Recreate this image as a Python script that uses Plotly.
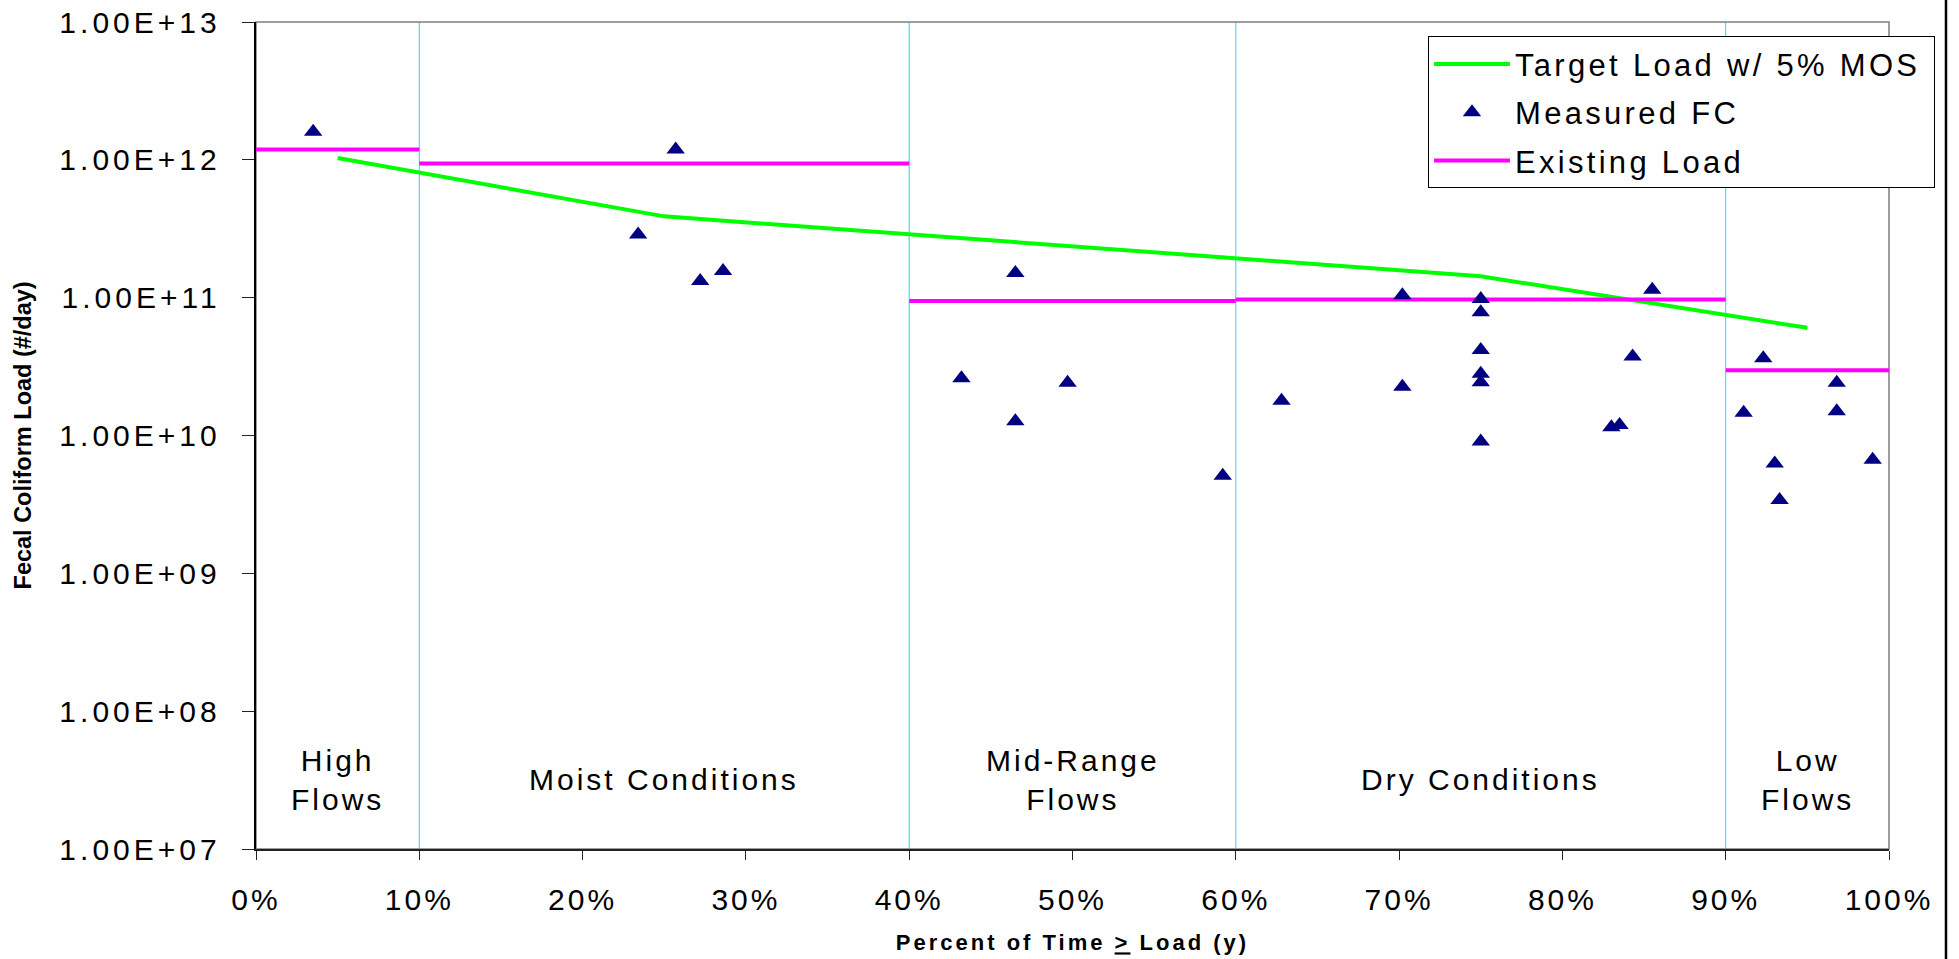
import plotly.graph_objects as go

# Flow-duration zones (percent of time a load is equalled or exceeded)
zone_edges = [0, 10, 40, 60, 90, 100]
zone_names = ["High<br>Flows", "Moist Conditions", "Mid-Range<br>Flows",
              "Dry Conditions", "Low<br>Flows"]
zone_mid = [5, 25, 50, 75, 95]

# Target load with 5% margin of safety (#/day)
target_pct = [5, 25, 75, 95]
target_load = [1.03e12, 3.89e11, 1.43e11, 6.04e10]

# Existing load for each flow zone (#/day)
existing_load = [1.19e12, 9.4e11, 9.44e10, 9.7e10, 2.97e10]

# Measured fecal coliform loads
measured_pct = [3.5,
                25.7, 23.4, 27.2, 28.6,
                46.5, 43.2, 46.5, 49.7, 59.2,
                62.8, 70.2, 70.2, 75.0, 75.0, 75.0, 75.0, 75.0, 75.0,
                85.5, 84.3, 83.0, 83.5,
                92.3, 91.1, 96.8, 96.8, 93.0, 93.3, 99.0]
measured_load = [1.6e12,
                 1.19e12, 2.87e11, 1.32e11, 1.56e11,
                 1.51e11, 2.6e10, 1.27e10, 2.41e10, 5.1e9,
                 1.79e10, 1.04e11, 2.26e10, 9.8e10, 7.85e10, 4.18e10, 2.8e10, 2.43e10, 9.06e9,
                 1.14e11, 3.74e10, 1.15e10, 1.19e10,
                 3.63e10, 1.46e10, 2.41e10, 1.50e10, 6.27e9, 3.4e9, 6.67e9]

y_tick_vals = [1e7, 1e8, 1e9, 1e10, 1e11, 1e12, 1e13]
x_tick_vals = list(range(0, 101, 10))

FONT = "Liberation Sans, Arial, sans-serif"


def spaced(text, px=3):
    """Wrap text so it is set with extra space between letters."""
    return f'<span style="letter-spacing:{px}px">{text}</span>'


# y labels carry a trailing gap so they sit a little away from the ticks
y_tick_text = [spaced(f"{v:.2E}", 4) + spaced("&nbsp;", 7) for v in y_tick_vals]
x_tick_text = [spaced(f"{v}%") for v in x_tick_vals]

# Existing load drawn as one flat segment per zone
ex_x, ex_y = [], []
for i, load in enumerate(existing_load):
    ex_x += [zone_edges[i], zone_edges[i + 1], None]
    ex_y += [load, load, None]

fig = go.Figure()

fig.add_trace(go.Scatter(
    x=target_pct, y=target_load, mode="lines",
    name=spaced("Target Load w/ 5% MOS", 3.3) + "&nbsp;",
    legendrank=1, legendgroup="target",
    line=dict(color="#00FF00", width=4),
))
fig.add_trace(go.Scatter(
    x=ex_x, y=ex_y, mode="lines",
    name=spaced("Existing Load", 3.3), legendrank=3, legendgroup="existing",
    line=dict(color="#FF00FF", width=4),
))
fig.add_trace(go.Scatter(
    x=measured_pct, y=measured_load, mode="markers",
    name=spaced("Measured FC", 3.3), legendrank=2, legendgroup="measured",
    marker=dict(symbol="triangle-up", size=16, color="#000080",
                line=dict(width=0)),
))

# Zone boundaries
for edge in zone_edges[1:-1]:
    fig.add_shape(type="line", xref="x", yref="paper",
                  x0=edge, x1=edge, y0=0, y1=1, layer="below",
                  line=dict(color="#33CCFF", width=1))

# Plot-area frame (top and right edges)
fig.add_shape(type="rect", xref="paper", yref="paper",
              x0=0, x1=1, y0=0, y1=1, layer="below",
              line=dict(color="#7F7F7F", width=1.5))

# Chart-area edge on the right
fig.add_shape(type="line", xref="paper", yref="paper",
              x0=1.0349, x1=1.0349, y0=-0.2, y1=1.2,
              line=dict(color="#000000", width=2.5))

# Zone labels
for name, mid in zip(zone_names, zone_mid):
    fig.add_annotation(x=mid, y=0.084, xref="x", yref="paper",
                       text=spaced(name), showarrow=False, yanchor="middle",
                       font=dict(family=FONT, size=30, color="#000000"))

# Vertical axis title
fig.add_annotation(x=-0.1427, y=0.5, xref="paper", yref="paper",
                   text="<b>Fecal Coliform Load (#/day)</b>", textangle=-90,
                   showarrow=False, xanchor="center", yanchor="middle",
                   font=dict(family=FONT, size=23.5, color="#000000"))

fig.update_layout(
    width=1959, height=959,
    margin=dict(l=256, r=70, t=22, b=110, autoexpand=False),
    paper_bgcolor="white", plot_bgcolor="white",
    font=dict(family=FONT, color="#000000"),
    showlegend=True,
    legend=dict(
        x=0.7177, y=0.9827, xanchor="left", yanchor="top",
        bgcolor="white", bordercolor="#000000", borderwidth=1,
        font=dict(family=FONT, size=31, color="#000000"),
        itemwidth=76, tracegroupgap=5,
    ),
    xaxis=dict(
        range=[0, 100], tickmode="array", automargin=False,
        tickvals=x_tick_vals, ticktext=x_tick_text,
        showgrid=False, zeroline=False,
        showline=True, linecolor="#222222", linewidth=2,
        ticks="outside", ticklen=9, tickcolor="#222222", tickwidth=1,
        tickfont=dict(family=FONT, size=30, color="#000000"),
        ticklabelstandoff=14,
        title=dict(text=spaced("<b>Percent of Time <u>&gt;</u> Load (y)</b>"),
                   font=dict(family=FONT, size=22, color="#000000"),
                   standoff=20),
    ),
    yaxis=dict(
        type="log", range=[7, 13], tickmode="array", automargin=False,
        tickvals=y_tick_vals, ticktext=y_tick_text,
        showgrid=False, zeroline=False,
        showline=True, linecolor="#000000", linewidth=2,
        ticks="outside", ticklen=12, tickcolor="#222222", tickwidth=1,
        tickfont=dict(family=FONT, size=30, color="#000000"),
    ),
)

fig.write_html("out.html")
